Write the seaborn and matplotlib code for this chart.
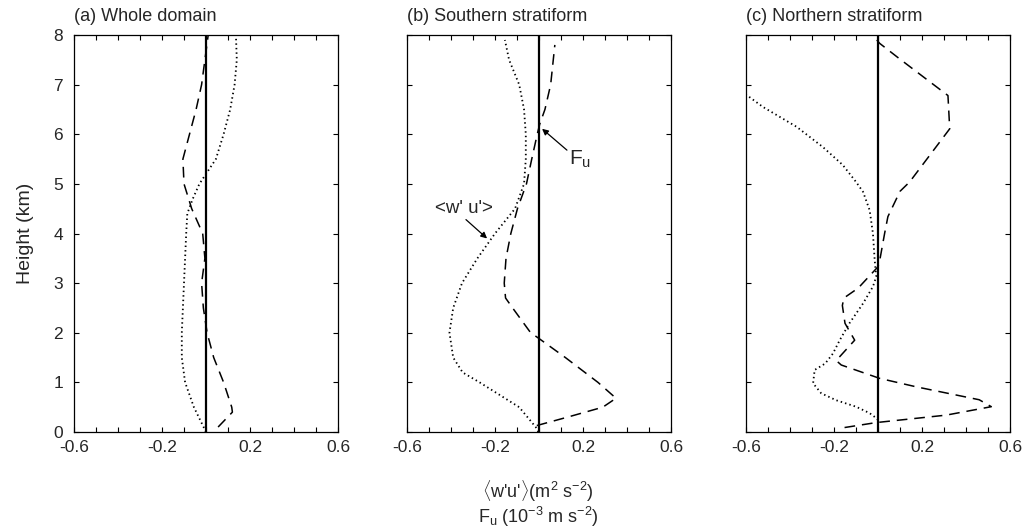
import numpy as np
import pandas as pd
import matplotlib
matplotlib.use("Agg")
import matplotlib.pyplot as plt
import seaborn as sns

# ---------------- data ----------------
# Panel (a) Whole domain
a_fu_h = [0.1, 0.4, 0.5, 1.0, 1.5, 2.0, 2.5, 3.0, 3.5, 4.0, 4.5, 5.0, 5.5, 6.0, 6.5, 7.0, 7.5, 8.0]
a_fu_x = [0.055, 0.12, 0.117, 0.08, 0.035, 0.005, -0.012, -0.02, -0.005, -0.015, -0.065, -0.10, -0.105, -0.075, -0.045, -0.02, -0.005, 0.01]
a_wu_h = [0.0, 0.5, 1.0, 1.5, 2.0, 3.0, 4.0, 4.4, 4.7, 5.0, 5.2, 5.5, 6.0, 6.5, 7.0, 7.5, 8.0]
a_wu_x = [0.0, -0.055, -0.095, -0.11, -0.11, -0.10, -0.09, -0.085, -0.06, -0.03, 0.0, 0.045, 0.08, 0.11, 0.13, 0.14, 0.136]

# Panel (b) Southern stratiform
b_fu_h = [0.13, 0.3, 0.5, 0.68, 1.0, 1.5, 1.9, 2.0, 2.5, 2.7, 3.0, 3.5, 4.0, 4.5, 5.0, 5.5, 6.0, 6.2, 6.5, 7.0, 7.8]
b_fu_x = [-0.01, 0.13, 0.29, 0.35, 0.268, 0.12, -0.005, -0.038, -0.12, -0.152, -0.158, -0.15, -0.128, -0.098, -0.057, -0.033, -0.008, 0.003, 0.027, 0.053, 0.072]
b_wu_h = [0.0, 0.1, 0.5, 1.0, 1.2, 1.5, 2.0, 2.5, 3.0, 3.5, 4.0, 4.5, 5.0, 5.5, 6.0, 6.5, 7.0, 7.5, 7.9]
b_wu_x = [-0.003, -0.015, -0.09, -0.27, -0.347, -0.39, -0.407, -0.39, -0.35, -0.28, -0.2, -0.109, -0.068, -0.06, -0.06, -0.068, -0.09, -0.136, -0.155]

# Panel (c) Northern stratiform
c_fu_h = [0.09, 0.19, 0.34, 0.51, 0.65, 0.91, 1.08, 1.35, 1.44, 1.85, 2.19, 2.55, 2.7, 2.9, 3.33, 3.46, 4.0, 4.34, 4.85, 5.04, 6.11, 6.78, 7.53, 7.83, 8.0]
c_fu_x = [-0.152, -0.008, 0.31, 0.515, 0.46, 0.174, 0.008, -0.167, -0.19, -0.106, -0.15, -0.162, -0.155, -0.09, 0.0, 0.008, 0.03, 0.045, 0.1, 0.144, 0.326, 0.318, 0.095, 0.008, -0.025]
c_wu_h = [0.24, 0.28, 0.38, 0.51, 0.64, 0.78, 0.98, 1.25, 1.38, 1.58, 1.85, 2.19, 2.59, 2.93, 3.13, 3.46, 4.0, 4.47, 4.84, 5.04, 5.38, 5.74, 6.15, 6.55, 6.8]
c_wu_x = [0.0, -0.008, -0.038, -0.1, -0.19, -0.258, -0.295, -0.288, -0.24, -0.205, -0.174, -0.13, -0.068, -0.023, -0.008, -0.015, -0.023, -0.038, -0.068, -0.1, -0.16, -0.25, -0.37, -0.523, -0.6]

titles = ["(a) Whole domain", "(b) Southern stratiform", "(c) Northern stratiform"]
xtick_vals = [-0.6, -0.2, 0.2, 0.6]
xtick_labels = ["-0.6", "-0.2", "0.2", "0.6"]
ytick_vals = [0, 1, 2, 3, 4, 5, 6, 7, 8]

# ---------------- style ----------------
sns.set_theme(style="ticks")
plt.rcParams['font.family'] = ['Liberation Sans', 'DejaVu Sans']
plt.rcParams['mathtext.fontset'] = 'custom'
plt.rcParams['mathtext.rm'] = 'Liberation Sans'
plt.rcParams['mathtext.it'] = 'Liberation Sans'
plt.rcParams['axes.linewidth'] = 0.9
plt.rcParams['xtick.direction'] = 'in'
plt.rcParams['ytick.direction'] = 'in'

fig = plt.figure(figsize=(10.32, 5.32), dpi=100)
lefts = [74 / 1032, 407 / 1032, 746 / 1032]
width = 264 / 1032
bottom = 1 - 432 / 532
height = (432 - 35) / 532

panels = [
    (a_fu_h, a_fu_x, a_wu_h, a_wu_x),
    (b_fu_h, b_fu_x, b_wu_h, b_wu_x),
    (c_fu_h, c_fu_x, c_wu_h, c_wu_x),
]

axes = []
for i, (fh, fx, wh, wx) in enumerate(panels):
    ax = fig.add_axes([lefts[i], bottom, width, height])
    axes.append(ax)
    df_f = pd.DataFrame({"x": fx, "h": fh})
    df_w = pd.DataFrame({"x": wx, "h": wh})
    sns.lineplot(data=df_f, x="x", y="h", sort=False, estimator=None, ax=ax,
                 color="black", lw=1.1, linestyle=(0, (7, 4.5)))
    sns.lineplot(data=df_w, x="x", y="h", sort=False, estimator=None, ax=ax,
                 color="black", lw=1.3, linestyle=(0, (0.8, 1.7)))
    ax.axvline(0, color="black", lw=1.6, zorder=3)
    ax.set_xlim(-0.6, 0.6)
    ax.set_ylim(0, 8)
    ax.set_xticks(xtick_vals)
    ax.set_xticklabels(xtick_labels)
    ax.set_xticks(np.arange(-0.6, 0.61, 0.1), minor=True)
    ax.set_yticks(ytick_vals)
    ax.tick_params(axis="both", which="both", direction="in", top=True, right=True,
                   length=3.5, width=0.8, labelsize=12.5, color="black")
    ax.tick_params(axis="x", which="both", pad=6)
    ax.tick_params(axis="y", which="both", pad=8)
    ax.tick_params(axis="y", which="minor", left=False, right=False)
    if i > 0:
        ax.set_yticklabels([])
    ax.set_xlabel("")
    ax.set_ylabel("")
    for s in ax.spines.values():
        s.set_color("black")
    ax.text(0.0, 1.025, titles[i], transform=ax.transAxes, ha="left", va="bottom",
            fontsize=13)

axes[0].set_ylabel("Height (km)", fontsize=14, labelpad=14)

# annotations in panel (b)
axb = axes[1]
arrow_kw = dict(arrowstyle="-|>", color="black", lw=0.9, mutation_scale=9,
                shrinkA=0, shrinkB=0)
axb.text(0.136, 5.49, "F$_\\mathregular{u}$", fontsize=15, ha="left", va="center")
axb.annotate("", xy=(0.014, 6.11), xytext=(0.127, 5.68), arrowprops=arrow_kw)
axb.text(-0.34, 4.5, "<w' u'>", fontsize=13.5, ha="center", va="center")
axb.annotate("", xy=(-0.236, 3.90), xytext=(-0.332, 4.28), arrowprops=arrow_kw)

fig.text(538 / 1032, 1 - 491 / 532,
         "$\\langle$w'u'$\\rangle$(m$^\\mathregular{2}$ s$^\\mathregular{-2}$)",
         ha="center", va="center", fontsize=13)
fig.text(538 / 1032, 1 - 517 / 532,
         "F$_\\mathregular{u}$ (10$^\\mathregular{-3}$ m s$^\\mathregular{-2}$)",
         ha="center", va="center", fontsize=13)

fig.savefig("out.png", dpi=100)
